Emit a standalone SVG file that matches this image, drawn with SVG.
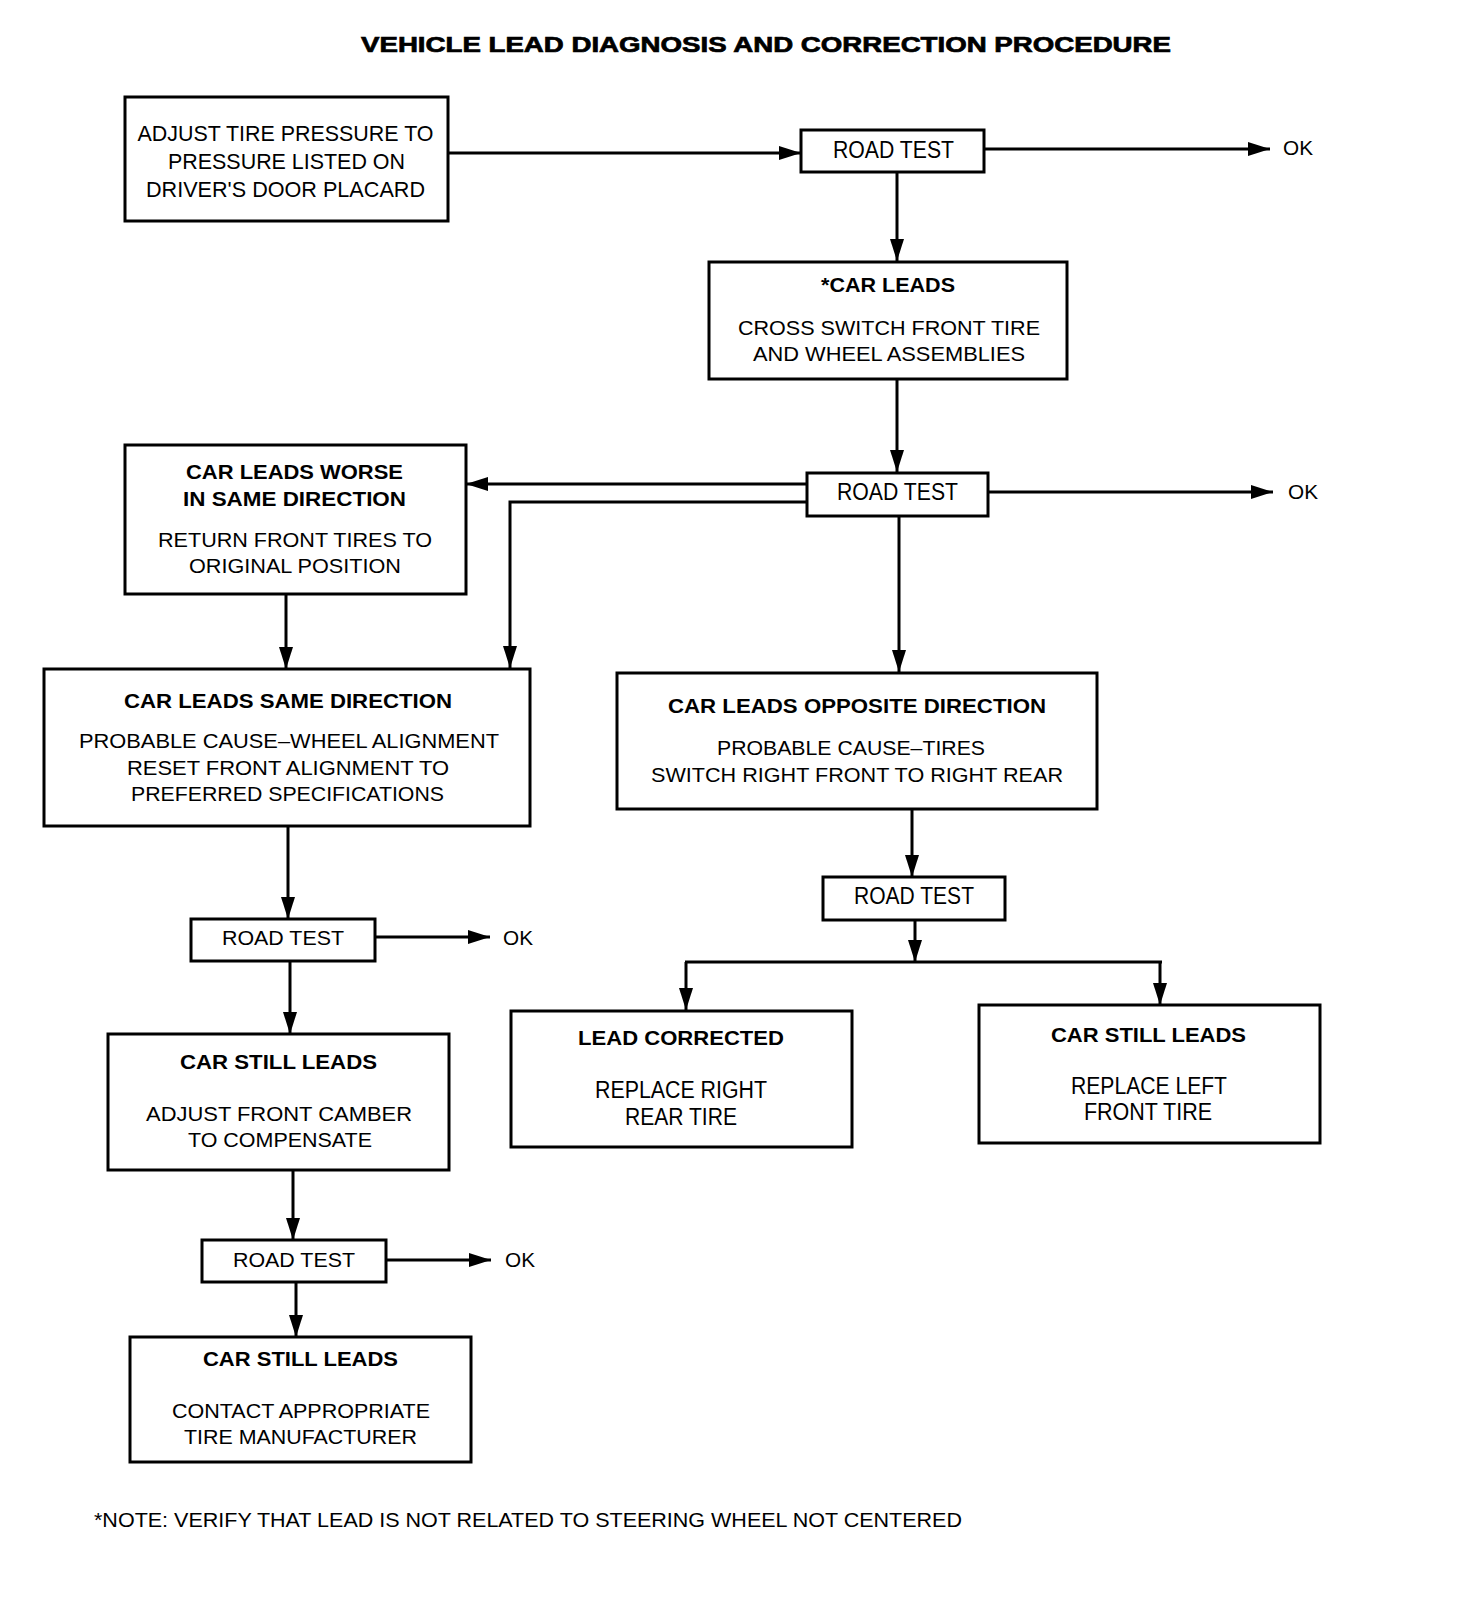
<svg xmlns="http://www.w3.org/2000/svg" width="1472" height="1610" viewBox="0 0 1472 1610">
<style>
text{font-family:"Liberation Sans",Arial,sans-serif;font-size:21px;fill:#000}
.b{font-weight:bold}
.l{font-size:23px}
.t{font-size:22px;font-weight:bold;stroke:#000;stroke-width:0.7}
.box{fill:#fff;stroke:#000;stroke-width:3}
.c{fill:none;stroke:#000;stroke-width:3}
</style>
<defs>
<marker id="ah" markerUnits="userSpaceOnUse" markerWidth="22" markerHeight="14" refX="22" refY="7" orient="auto"><path d="M0,0 L22,7 L0,14 z" fill="#000"/></marker>
</defs>
<rect width="1472" height="1610" fill="#fff"/>
<text class="t" x="361" y="52" textLength="810" lengthAdjust="spacingAndGlyphs">VEHICLE LEAD DIAGNOSIS AND CORRECTION PROCEDURE</text>
<g id="connectors">
<line class="c" x1="448" y1="153" x2="801" y2="153" marker-end="url(#ah)"/>
<line class="c" x1="984" y1="149" x2="1270" y2="149" marker-end="url(#ah)"/>
<line class="c" x1="897" y1="172" x2="897" y2="261" marker-end="url(#ah)"/>
<line class="c" x1="897" y1="379" x2="897" y2="472" marker-end="url(#ah)"/>
<line class="c" x1="807" y1="484" x2="466" y2="484" marker-end="url(#ah)"/>
<polyline class="c" points="807,502 510,502 510,668" marker-end="url(#ah)"/>
<line class="c" x1="988" y1="492" x2="1273" y2="492" marker-end="url(#ah)"/>
<line class="c" x1="899" y1="516" x2="899" y2="672" marker-end="url(#ah)"/>
<line class="c" x1="286" y1="594" x2="286" y2="669" marker-end="url(#ah)"/>
<line class="c" x1="288" y1="827" x2="288" y2="919" marker-end="url(#ah)"/>
<line class="c" x1="375" y1="937" x2="490" y2="937" marker-end="url(#ah)"/>
<line class="c" x1="290" y1="961" x2="290" y2="1034" marker-end="url(#ah)"/>
<line class="c" x1="293" y1="1170" x2="293" y2="1240" marker-end="url(#ah)"/>
<line class="c" x1="386" y1="1260" x2="491" y2="1260" marker-end="url(#ah)"/>
<line class="c" x1="296" y1="1282" x2="296" y2="1337" marker-end="url(#ah)"/>
<line class="c" x1="912" y1="809" x2="912" y2="877" marker-end="url(#ah)"/>
<line class="c" x1="915" y1="920" x2="915" y2="962" marker-end="url(#ah)"/>
<line class="c" x1="685" y1="962" x2="1162" y2="962"/>
<line class="c" x1="686" y1="962" x2="686" y2="1010" marker-end="url(#ah)"/>
<line class="c" x1="1160" y1="962" x2="1160" y2="1005" marker-end="url(#ah)"/>
</g>
<g id="ok-labels">
<text x="1283" y="155" textLength="30" lengthAdjust="spacingAndGlyphs">OK</text>
<text x="1288" y="499" textLength="30" lengthAdjust="spacingAndGlyphs">OK</text>
<text x="503" y="945" textLength="30" lengthAdjust="spacingAndGlyphs">OK</text>
<text x="505" y="1267" textLength="30" lengthAdjust="spacingAndGlyphs">OK</text>
</g>
<g id="adjust-pressure">
<rect class="box" x="125" y="97" width="323" height="124"/>
<text x="137.5" y="141" style="font-size:22px" textLength="296" lengthAdjust="spacingAndGlyphs">ADJUST TIRE PRESSURE TO</text>
<text x="168" y="169" style="font-size:22px" textLength="237" lengthAdjust="spacingAndGlyphs">PRESSURE LISTED ON</text>
<text x="146" y="197" style="font-size:22px" textLength="279" lengthAdjust="spacingAndGlyphs">DRIVER'S DOOR PLACARD</text>
</g>
<g id="road-test-1">
<rect class="box" x="801" y="130" width="183" height="42"/>
<text class="l" x="833" y="158" textLength="121" lengthAdjust="spacingAndGlyphs">ROAD TEST</text>
</g>
<g id="car-leads">
<rect class="box" x="709" y="262" width="358" height="117"/>
<text class="b" x="821" y="292" textLength="134" lengthAdjust="spacingAndGlyphs">*CAR LEADS</text>
<text x="738" y="335" textLength="302" lengthAdjust="spacingAndGlyphs">CROSS SWITCH FRONT TIRE</text>
<text x="753" y="361" textLength="272" lengthAdjust="spacingAndGlyphs">AND WHEEL ASSEMBLIES</text>
</g>
<g id="road-test-2">
<rect class="box" x="807" y="473" width="181" height="43"/>
<text class="l" x="837" y="500" textLength="121" lengthAdjust="spacingAndGlyphs">ROAD TEST</text>
</g>
<g id="leads-worse">
<rect class="box" x="125" y="445" width="341" height="149"/>
<text class="b" x="186" y="479" textLength="217" lengthAdjust="spacingAndGlyphs">CAR LEADS WORSE</text>
<text class="b" x="183" y="506" textLength="223" lengthAdjust="spacingAndGlyphs">IN SAME DIRECTION</text>
<text x="158" y="547" textLength="274" lengthAdjust="spacingAndGlyphs">RETURN FRONT TIRES TO</text>
<text x="189" y="573" textLength="212" lengthAdjust="spacingAndGlyphs">ORIGINAL POSITION</text>
</g>
<g id="leads-same">
<rect class="box" x="44" y="669" width="486" height="157"/>
<text class="b" x="124" y="708" textLength="328" lengthAdjust="spacingAndGlyphs">CAR LEADS SAME DIRECTION</text>
<text x="79" y="748" textLength="420" lengthAdjust="spacingAndGlyphs">PROBABLE CAUSE–WHEEL ALIGNMENT</text>
<text x="127" y="775" textLength="322" lengthAdjust="spacingAndGlyphs">RESET FRONT ALIGNMENT TO</text>
<text x="131" y="801" textLength="313" lengthAdjust="spacingAndGlyphs">PREFERRED SPECIFICATIONS</text>
</g>
<g id="leads-opposite">
<rect class="box" x="617" y="673" width="480" height="136"/>
<text class="b" x="668" y="713" textLength="378" lengthAdjust="spacingAndGlyphs">CAR LEADS OPPOSITE DIRECTION</text>
<text x="717" y="755" textLength="268" lengthAdjust="spacingAndGlyphs">PROBABLE CAUSE–TIRES</text>
<text x="651" y="782" textLength="412" lengthAdjust="spacingAndGlyphs">SWITCH RIGHT FRONT TO RIGHT REAR</text>
</g>
<g id="road-test-3">
<rect class="box" x="823" y="877" width="182" height="43"/>
<text class="l" x="854" y="904" textLength="120" lengthAdjust="spacingAndGlyphs">ROAD TEST</text>
</g>
<g id="lead-corrected">
<rect class="box" x="511" y="1011" width="341" height="136"/>
<text class="b" x="578" y="1045" textLength="206" lengthAdjust="spacingAndGlyphs">LEAD CORRECTED</text>
<text class="l" x="595" y="1098" textLength="172" lengthAdjust="spacingAndGlyphs">REPLACE RIGHT</text>
<text class="l" x="625" y="1125" textLength="112" lengthAdjust="spacingAndGlyphs">REAR TIRE</text>
</g>
<g id="still-leads-right">
<rect class="box" x="979" y="1005" width="341" height="138"/>
<text class="b" x="1051" y="1042" textLength="195" lengthAdjust="spacingAndGlyphs">CAR STILL LEADS</text>
<text class="l" x="1071" y="1094" textLength="156" lengthAdjust="spacingAndGlyphs">REPLACE LEFT</text>
<text class="l" x="1084" y="1120" textLength="128" lengthAdjust="spacingAndGlyphs">FRONT TIRE</text>
</g>
<g id="road-test-4">
<rect class="box" x="191" y="919" width="184" height="42"/>
<text x="222" y="945" textLength="122" lengthAdjust="spacingAndGlyphs">ROAD TEST</text>
</g>
<g id="still-leads-camber">
<rect class="box" x="108" y="1034" width="341" height="136"/>
<text class="b" x="180" y="1069" textLength="197" lengthAdjust="spacingAndGlyphs">CAR STILL LEADS</text>
<text x="146" y="1121" textLength="266" lengthAdjust="spacingAndGlyphs">ADJUST FRONT CAMBER</text>
<text x="188" y="1147" textLength="184" lengthAdjust="spacingAndGlyphs">TO COMPENSATE</text>
</g>
<g id="road-test-5">
<rect class="box" x="202" y="1240" width="184" height="42"/>
<text x="233" y="1267" textLength="122" lengthAdjust="spacingAndGlyphs">ROAD TEST</text>
</g>
<g id="still-leads-contact">
<rect class="box" x="130" y="1337" width="341" height="125"/>
<text class="b" x="203" y="1366" textLength="195" lengthAdjust="spacingAndGlyphs">CAR STILL LEADS</text>
<text x="172" y="1418" textLength="258" lengthAdjust="spacingAndGlyphs">CONTACT APPROPRIATE</text>
<text x="184" y="1444" textLength="233" lengthAdjust="spacingAndGlyphs">TIRE MANUFACTURER</text>
</g>
<text x="94" y="1527" textLength="868" lengthAdjust="spacingAndGlyphs">*NOTE: VERIFY THAT LEAD IS NOT RELATED TO STEERING WHEEL NOT CENTERED</text>
</svg>
